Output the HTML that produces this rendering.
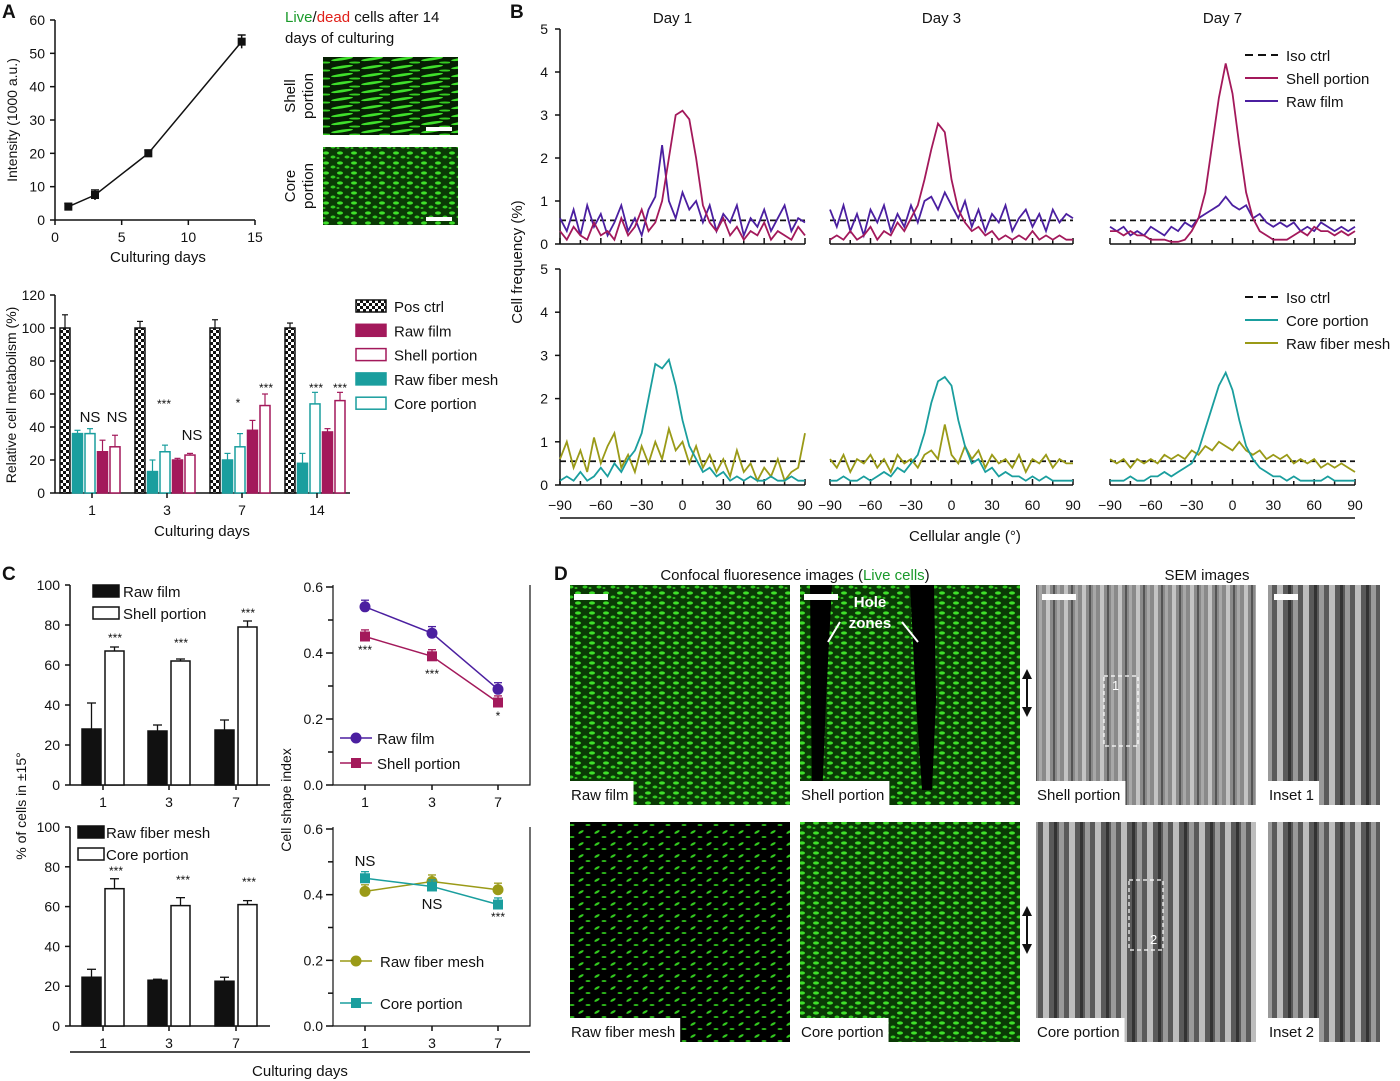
<!DOCTYPE html>
<html><head><meta charset="utf-8"><style>
body{margin:0;background:#fff}
svg{display:block;font-family:"Liberation Sans",sans-serif}
text{fill:#111}
</style></head><body>
<svg id="fig" width="1400" height="1081" viewBox="0 0 1400 1081" xmlns="http://www.w3.org/2000/svg">
<defs>
<pattern id="gDense" width="14" height="10" patternUnits="userSpaceOnUse"><rect width="14" height="10" fill="#0a3a05"/><ellipse cx="4" cy="3" rx="3" ry="1.6" fill="#3ee02a"/><ellipse cx="11" cy="7" rx="2.5" ry="1.5" fill="#33cc22"/><ellipse cx="2" cy="8" rx="1.5" ry="1" fill="#2fb81e"/></pattern>
<pattern id="gSparse" width="16" height="12" patternUnits="userSpaceOnUse"><rect width="16" height="12" fill="#000"/><ellipse cx="5" cy="4" rx="3" ry="1.2" fill="#32c81e" transform="rotate(-30 5 4)"/><ellipse cx="12" cy="9" rx="2.5" ry="1" fill="#2cb51a"/></pattern>
<pattern id="gStreak" width="30" height="8" patternUnits="userSpaceOnUse"><rect width="30" height="8" fill="#061f03"/><ellipse cx="12" cy="3" rx="11" ry="1.4" fill="#3fe02b" transform="rotate(-8 12 3)"/><ellipse cx="25" cy="6.5" rx="6" ry="1" fill="#35cc22"/></pattern>
<pattern id="sem" width="18" height="40" patternUnits="userSpaceOnUse"><rect width="18" height="40" fill="#8a8a8a"/><rect x="2" width="4" height="40" fill="#c4c4c4"/><rect x="9" width="2" height="40" fill="#555"/><rect x="13" width="3" height="40" fill="#a8a8a8"/></pattern>
<pattern id="sem2" width="26" height="40" patternUnits="userSpaceOnUse"><rect width="26" height="40" fill="#5a5a5a"/><rect x="3" width="6" height="40" fill="#bdbdbd"/><rect x="14" width="3" height="40" fill="#333"/><rect x="19" width="5" height="40" fill="#9a9a9a"/></pattern>
<pattern id="check" width="6" height="6" patternUnits="userSpaceOnUse"><rect width="6" height="6" fill="#fff"/><rect width="3" height="3" fill="#111"/><rect x="3" y="3" width="3" height="3" fill="#111"/></pattern>
</defs>
<g id="root"></g>
</svg>
<script>
// ---------- DATA ----------
const aLineDays=[1,3,7,14];
const aLineVals=[4,7.5,20,53.5];
const aLineErr=[1,1.5,1,2];
const aBarDays=['1','3','7','14'];
const aPos=[100,100,100,100];
const aRawFiber=[36,13,20,18];
const aCore=[36,25,28,54];
const aRawFilm=[25,20,38,37];
const aShell=[28,23,53,56];
const aErrPos=[8,4,5,3];
const aErrRF=[2,7,4,6];
const aErrCore=[3,4,8,7];
const aErrFilm=[7,1,6,2];
const aErrShell=[7,1,7,5];
const aYTicks=[0,20,40,60,80,100,120];
const bAngles=[-90,-85,-80,-75,-70,-65,-60,-55,-50,-45,-40,-35,-30,-25,-20,-15,-10,-5,0,5,10,15,20,25,30,35,40,45,50,55,60,65,70,75,80,85,90];
const shell1=[0.3,0.1,0.4,0.2,0.1,0.5,0.2,0.3,0.1,0.6,0.2,0.4,0.8,0.3,0.5,1.0,2.0,3.0,3.1,2.9,2.0,0.9,0.5,0.3,0.6,0.2,0.4,0.1,0.3,0.2,0.5,0.1,0.3,0.2,0.1,0.4,0.2];
const raw1=[0.6,0.3,0.8,0.2,0.9,0.4,0.7,0.2,0.5,0.9,0.3,0.6,0.2,0.8,1.1,2.3,1.0,0.6,1.2,0.8,1.0,0.5,0.9,0.3,0.7,0.5,0.9,0.2,0.6,0.4,0.8,0.3,0.6,0.9,0.3,0.6,0.5];
const shell3=[0.1,0.2,0.1,0.3,0.1,0.2,0.4,0.1,0.3,0.2,0.5,0.3,0.6,0.9,1.5,2.2,2.8,2.6,1.5,0.8,0.5,0.3,0.4,0.2,0.3,0.1,0.2,0.1,0.2,0.1,0.3,0.1,0.2,0.1,0.2,0.1,0.1];
const raw3=[0.8,0.4,0.9,0.3,0.7,0.2,0.8,0.5,0.9,0.3,0.7,0.4,0.9,0.5,1.0,1.1,0.8,1.2,0.9,0.6,1.0,0.4,0.8,0.3,0.7,0.5,0.9,0.3,0.6,0.8,0.4,0.7,0.3,0.8,0.5,0.7,0.6];
const shell7=[0.3,0.3,0.2,0.3,0.2,0.2,0.1,0.1,0.1,0.05,0.05,0.1,0.3,0.6,1.2,2.3,3.4,4.2,3.5,2.3,1.2,0.6,0.3,0.2,0.1,0.1,0.1,0.2,0.3,0.2,0.4,0.3,0.3,0.2,0.3,0.2,0.3];
const raw7=[0.4,0.3,0.4,0.2,0.3,0.2,0.4,0.3,0.2,0.4,0.3,0.5,0.4,0.6,0.7,0.8,0.9,1.1,0.9,0.8,0.9,0.6,0.7,0.5,0.4,0.5,0.4,0.5,0.3,0.4,0.3,0.5,0.4,0.3,0.4,0.3,0.4];
const core1=[0.1,0.2,0.1,0.3,0.1,0.2,0.4,0.2,0.5,0.3,0.6,0.8,1.2,2.0,2.8,2.7,2.9,2.3,1.5,0.9,0.6,0.3,0.4,0.2,0.3,0.1,0.2,0.1,0.2,0.1,0.1,0.2,0.1,0.1,0.2,0.1,0.1];
const rfm1=[0.6,1.0,0.4,0.8,0.3,1.1,0.5,0.9,1.2,0.4,0.7,0.3,0.9,0.5,1.0,0.6,1.3,0.8,1.0,0.5,0.9,0.4,0.7,0.3,0.6,0.2,0.8,0.3,0.5,0.1,0.4,0.2,0.6,0.1,0.3,0.4,1.2];
const core3=[0.1,0.1,0.2,0.1,0.1,0.2,0.1,0.2,0.3,0.2,0.4,0.3,0.5,0.7,1.2,1.9,2.4,2.5,2.3,1.5,0.9,0.5,0.6,0.3,0.4,0.2,0.3,0.2,0.2,0.1,0.2,0.1,0.2,0.1,0.1,0.1,0.1];
const rfm3=[0.6,0.4,0.7,0.3,0.6,0.5,0.7,0.4,0.6,0.3,0.7,0.5,0.6,0.4,0.7,0.8,0.6,1.4,0.7,0.5,0.9,0.6,0.8,0.4,0.7,0.5,0.6,0.4,0.7,0.3,0.6,0.5,0.7,0.4,0.6,0.5,0.5];
const core7=[0.1,0.1,0.1,0.2,0.1,0.1,0.2,0.2,0.3,0.2,0.3,0.4,0.5,0.8,1.3,1.8,2.3,2.6,2.2,1.5,0.9,0.6,0.4,0.3,0.2,0.2,0.1,0.2,0.1,0.1,0.1,0.1,0.2,0.1,0.1,0.1,0.1];
const rfm7=[0.6,0.5,0.6,0.4,0.6,0.5,0.6,0.5,0.7,0.6,0.7,0.6,0.8,0.7,0.9,0.8,1.0,0.9,0.8,1.0,0.8,0.7,0.8,0.6,0.7,0.6,0.7,0.5,0.6,0.5,0.6,0.4,0.5,0.4,0.5,0.4,0.3];
const isoCtrl=0.55;
const cDays=['1','3','7'];
const cRawFilm=[28,27,27.5];
const cShell=[67,62,79];
const cRawFiber=[24.5,23,22.5];
const cCorePct=[69,60.5,61];
const cErrFilm=[13,3,5];
const cErrShell=[2,1,3];
const cErrFiber=[4,0.5,2];
const cErrCore=[5,4,2];
const csiRawFilm=[0.54,0.46,0.29];
const csiShell=[0.45,0.39,0.25];
const csiRawFiber=[0.41,0.44,0.415];
const csiCore=[0.45,0.425,0.37];

// ---------- helpers ----------
const NS='http://www.w3.org/2000/svg';
const root=document.getElementById('root');
function el(tag,attrs,parent){const e=document.createElementNS(NS,tag);for(const k in attrs)e.setAttribute(k,attrs[k]);(parent||root).appendChild(e);return e;}
function txt(x,y,s,size,opts){opts=opts||{};const t=el('text',Object.assign({x:x,y:y,'font-size':size,'text-anchor':opts.anchor||'start'},opts.attr||{}));t.textContent=s;if(opts.fill)t.style.fill=opts.fill;


return t;}
function lin(d0,d1,r0,r1){return v=>r0+(v-d0)*(r1-r0)/(d1-d0);}
function line(x1,y1,x2,y2,c,w,extra){return el('line',Object.assign({x1,y1,x2,y2,stroke:c||'#111','stroke-width':w||1.5},extra||{}));}

// ---------- Panel A line ----------
txt(2,18,'A',19,{attr:{'font-weight':'bold'},name:'panel-a-label'});
{const x=lin(0,15,55,255),y=lin(0,60,220,20);
line(55,20,55,220);line(55,220,255,220);
[0,10,20,30,40,50,60].forEach(v=>{line(50,y(v),55,y(v));txt(45,y(v)+5,String(v),14,{anchor:'end',name:'y-tick'});});
[0,5,10,15].forEach(v=>{line(x(v),220,x(v),225);txt(x(v),242,String(v),14,{anchor:'middle',name:'x-tick'});});
txt(158,262,'Culturing days',15,{anchor:'middle',name:'x-axis-title'});
txt(17,120,'Intensity (1000 a.u.)',14,{anchor:'middle',attr:{transform:'rotate(-90 17 120)'},name:'y-axis-title'});
const p=el('polyline',{points:aLineDays.map((d,i)=>x(d)+','+y(aLineVals[i])).join(' '),fill:'none',stroke:'#111','stroke-width':1.5});

aLineDays.forEach((d,i)=>{line(x(d),y(aLineVals[i]+aLineErr[i]),x(d),y(aLineVals[i]-aLineErr[i]));line(x(d)-4,y(aLineVals[i]+aLineErr[i]),x(d)+4,y(aLineVals[i]+aLineErr[i]));
const r=el('rect',{x:x(d)-4,y:y(aLineVals[i])-4,width:8,height:8,fill:'#111'});});
}
// live/dead text + images
{const t=el('text',{x:285,y:22,'font-size':15});
t.innerHTML='<tspan style="fill:#1a9a2a">Live</tspan>/<tspan style="fill:#e0201a">dead</tspan> cells after 14';
txt(285,43,'days of culturing',15,{name:'live-dead-caption-2'});
const r1=el('rect',{x:323,y:57,width:135,height:78,fill:'url(#gStreak)'});
const r2=el('rect',{x:323,y:147,width:135,height:78,fill:'url(#gDense)'});
el('rect',{x:426,y:127,width:26,height:4,fill:'#fff'});el('rect',{x:426,y:217,width:26,height:4,fill:'#fff'});
txt(295,96,'Shell',15,{anchor:'middle',attr:{transform:'rotate(-90 295 96)'}});txt(313,96,'portion',15,{anchor:'middle',attr:{transform:'rotate(-90 313 96)'}});
txt(295,186,'Core',15,{anchor:'middle',attr:{transform:'rotate(-90 295 186)'}});txt(313,186,'portion',15,{anchor:'middle',attr:{transform:'rotate(-90 313 186)'}});
}
// ---------- Panel A bars ----------
{const y=lin(0,120,493,295);
line(55,295,55,493);line(55,493,350,493);
aYTicks.forEach(v=>{line(50,y(v),55,y(v));txt(45,y(v)+5,String(v),14,{anchor:'end',name:'y-tick'});});
txt(16,395,'Relative cell metabolism (%)',14,{anchor:'middle',attr:{transform:'rotate(-90 16 395)'},name:'y-axis-title'});
txt(202,536,'Culturing days',15,{anchor:'middle',name:'x-axis-title'});
const series=[[aPos,aErrPos,'url(#check)','#111'],[aRawFiber,aErrRF,'#1a9e9e','#1a9e9e'],[aCore,aErrCore,'#fff','#1a9e9e'],[aRawFilm,aErrFilm,'#a3195b','#a3195b'],[aShell,aErrShell,'#fff','#a3195b']];
const names=['pos-ctrl','raw-fiber-mesh','core-portion','raw-film','shell-portion'];
aBarDays.forEach((d,g)=>{const gx=60+g*75;
series.forEach((s,k)=>{const bx=gx+k*12.5,v=s[0][g],e=s[1][g];
const r=el('rect',{x:bx,y:y(v),width:10,height:y(0)-y(v),fill:s[2],stroke:s[3],'stroke-width':1.5});

line(bx+5,y(v),bx+5,y(v+e),s[3],1.2);line(bx+2,y(v+e),bx+8,y(v+e),s[3],1.2);});
line(gx+32,493,gx+32,498);txt(gx+32,515,d,14,{anchor:'middle',name:'x-tick'});});
[['NS',90,422],['NS',117,422],['***',164,408],['NS',192,440],['*',238,407],['***',266,392],['***',316,392],['***',340,392]].forEach(a=>txt(a[1],a[2],a[0],a[0]=='NS'?15:12,{anchor:'middle',name:'significance'}));
const leg=[['Pos ctrl','url(#check)','#111'],['Raw film','#a3195b','#a3195b'],['Shell portion','#fff','#a3195b'],['Raw fiber mesh','#1a9e9e','#1a9e9e'],['Core portion','#fff','#1a9e9e']];
leg.forEach((l,i)=>{const ly=300+i*24.3;const r=el('rect',{x:356,y:ly,width:30,height:12,fill:l[1],stroke:l[2],'stroke-width':1.5});txt(394,ly+12,l[0],15,{name:'legend-entry'});});
}
// ---------- Panel B ----------
txt(510,18,'B',19,{attr:{'font-weight':'bold'},name:'panel-b-label'});
{const xs=[[560,805],[830,1073],[1110,1355]];
const rows=[[244,29,[[shell1,raw1],[shell3,raw3],[shell7,raw7]],['#a3195b','#4b1fa0']],[485,269,[[core1,rfm1],[core3,rfm3],[core7,rfm7]],['#1a9e9e','#9a9a17']]];
['Day 1','Day 3','Day 7'].forEach((d,i)=>txt((xs[i][0]+xs[i][1])/2-10,23,d,15,{anchor:'middle',name:'day-title'}));
rows.forEach((row,ri)=>{const y=lin(0,5,row[0],row[1]);
line(560,row[1],560,row[0]);
[0,1,2,3,4,5].forEach(v=>{line(555,y(v),560,y(v));txt(548,y(v)+5,String(v),14,{anchor:'end',name:'y-tick'});});
xs.forEach((xr,si)=>{const x=lin(-90,90,xr[0],xr[1]);
line(xr[0],row[0],xr[1],row[0]);
for(let a=-90;a<=90;a+=15)line(x(a),row[0],x(a),row[0]-(a%30==0?6:4));
if(ri==1)[-90,-60,-30,0,30,60,90].forEach(a=>txt(x(a),510,a<0?'\u2212'+(-a):String(a),14,{anchor:'middle',name:'x-tick'}));
line(xr[0],y(isoCtrl),xr[1],y(isoCtrl),'#111',1.8,{'stroke-dasharray':'6,4'});
[1,0].forEach(k=>{const vals=row[2][si][k];const p=el('polyline',{points:bAngles.map((a,i)=>x(a).toFixed(1)+','+y(vals[i]).toFixed(1)).join(' '),fill:'none',stroke:row[3][k],'stroke-width':1.8});

});
});});
line(560,518,1355,518);
txt(965,541,'Cellular angle (\u00b0)',15,{anchor:'middle',name:'x-axis-title'});
txt(522,262,'Cell frequency (%)',15,{anchor:'middle',attr:{transform:'rotate(-90 522 262)'},name:'y-axis-title'});
const legs=[[55,[['Iso ctrl','#111',1],['Shell portion','#a3195b'],['Raw film','#4b1fa0']]],[297,[['Iso ctrl','#111',1],['Core portion','#1a9e9e'],['Raw fiber mesh','#9a9a17']]]];
legs.forEach(L=>L[1].forEach((e,i)=>{const ly=L[0]+i*23;line(1245,ly,1278,ly,e[1],2,e[2]?{'stroke-dasharray':'8,5'}:{});txt(1286,ly+6,e[0],15,{name:'legend-entry'});}));
}
// ---------- Panel C ----------
txt(2,580,'C',19,{attr:{'font-weight':'bold'},name:'panel-c-label'});
{const cx=[103,169,236];
const bars=[[785,585,cRawFilm,cShell,cErrFilm,cErrShell,['Raw film','Shell portion'],[[['***',103,642],['***',169,647],['***',236,617]]]],[1026,827,cRawFiber,cCorePct,cErrFiber,cErrCore,['Raw fiber mesh','Core portion'],[[['***',104,875],['***',171,884],['***',237,886]]]]];
bars.forEach((b,bi)=>{const y=lin(0,100,b[0],b[1]);
line(70,b[1],70,b[0]);line(70,b[0],270,b[0]);
[0,20,40,60,80,100].forEach(v=>{line(65,y(v),70,y(v));txt(60,y(v)+5,String(v),14,{anchor:'end',name:'y-tick'});});
cDays.forEach((d,i)=>{
[[b[2],b[4],'#111',-21],[b[3],b[5],'#fff',2]].forEach((s,k)=>{const bx=cx[i]+s[3],v=s[0][i],e=s[1][i];
line(bx+9.5,y(v),bx+9.5,y(v+e),'#111',1.3);line(bx+5,y(v+e),bx+14,y(v+e),'#111',1.3);
const r=el('rect',{x:bx,y:y(v),width:19,height:y(0)-y(v),fill:s[2],stroke:'#111','stroke-width':1.5});
});
line(cx[i],b[0],cx[i],b[0]+5);txt(cx[i],b[0]+22,d,14,{anchor:'middle',name:'x-tick'});});
b[7][0].forEach(s=>txt(s[1]+12,s[2],s[0],12,{anchor:'middle',name:'significance'}));
const lx=bi?78:93,ly=bi?832:591;
b[6].forEach((n,i)=>{const r=el('rect',{x:lx,y:ly+i*22-6,width:26,height:12,fill:i?'#fff':'#111',stroke:'#111','stroke-width':1.5});txt(lx+(bi?28:30),ly+i*22+6,n,15,{name:'legend-entry'});});
});
txt(26,806,'% of cells in \u00b115\u00b0',14,{anchor:'middle',attr:{transform:'rotate(-90 26 806)'},name:'y-axis-title'});
txt(291,800,'Cell shape index',14,{anchor:'middle',attr:{transform:'rotate(-90 291 800)'},name:'y-axis-title'});
line(70,1052,530,1052);
txt(300,1076,'Culturing days',15,{anchor:'middle',name:'x-axis-title'});
const px=[365,432,498];
const csi=[[785,587,[[csiRawFilm,'#4b1fa0','c'],[csiShell,'#a3195b','s']],['Raw film','Shell portion'],[['***',365,654],['***',432,678],['*',498,720]]],[1026,829,[[csiRawFiber,'#9a9a17','c'],[csiCore,'#1a9e9e','s']],['Raw fiber mesh','Core portion'],[['NS',365,866],['NS',432,909],['***',498,921]]]];
csi.forEach((c,ci)=>{const y=lin(0,0.6,c[0],c[1]);
const bx=el('path',{d:`M333 ${c[1]-2} V${c[0]} H530 V${c[1]-2}`,fill:'none',stroke:'#111','stroke-width':1.2});
[0,0.1,0.2,0.3,0.4,0.5,0.6].forEach((v,j)=>{line(j%2?328:326,y(v),333,y(v));});
[0,0.2,0.4,0.6].forEach(v=>{txt(323,y(v)+5,v.toFixed(1),14,{anchor:'end',name:'y-tick'});});
cDays.forEach((d,i)=>{line(px[i],c[0],px[i],c[0]+5);txt(px[i],c[0]+22,d,14,{anchor:'middle',name:'x-tick'});});
c[2].forEach((s,k)=>{const p=el('polyline',{points:px.map((x,i)=>x+','+y(s[0][i])).join(' '),fill:'none',stroke:s[1],'stroke-width':1.5});

px.forEach((x,i)=>{line(x,y(s[0][i]),x,y(s[0][i]+0.02),s[1],1.3);line(x-4,y(s[0][i]+0.02),x+4,y(s[0][i]+0.02),s[1],1.3);
const m=s[2]=='c'?el('circle',{cx:x,cy:y(s[0][i]),r:5.5,fill:s[1]}):el('rect',{x:x-5,y:y(s[0][i])-5,width:10,height:10,fill:s[1]});
});});
const ly=ci?961:738;
c[2].forEach((s,k)=>{const yy=ly+k*(ci?42:25);line(340,yy,372,yy,s[1],1.5);
const m=s[2]=='c'?el('circle',{cx:356,cy:yy,r:5.5,fill:s[1]}):el('rect',{x:351,y:yy-5,width:10,height:10,fill:s[1]});
txt(ci?380:377,yy+6,c[3][k],15,{name:'legend-entry'});});
c[4].forEach(s=>txt(s[1],s[2],s[0],s[0]=='NS'?15:12,{anchor:'middle',name:'significance'}));
});
}
// ---------- Panel D ----------
txt(554,580,'D',19,{attr:{'font-weight':'bold'},name:'panel-d-label'});
{const t=el('text',{x:795,y:580,'font-size':15,'text-anchor':'middle'});
t.innerHTML='Confocal fluoresence images (<tspan style="fill:#1a9a2a">Live cells</tspan>)';
txt(1207,580,'SEM images',15,{anchor:'middle',name:'sem-title'});
const imgs=[[570,585,220,220,'url(#gDense)','Raw film'],[800,585,220,220,'url(#gDense)','Shell portion'],[1036,585,220,220,'url(#sem)','Shell portion'],[1268,585,112,220,'url(#sem2)','Inset 1'],
[570,822,220,220,'url(#gSparse)','Raw fiber mesh'],[800,822,220,220,'url(#gDense)','Core portion'],[1036,822,220,220,'url(#sem2)','Core portion'],[1268,822,112,220,'url(#sem2)','Inset 2']];
imgs.forEach((m,i)=>{const r=el('rect',{x:m[0],y:m[1],width:m[2],height:m[3],fill:m[4]});

if(i==1){el('path',{d:'M810 585 L832 585 L826 700 L822 800 L812 800 Z',fill:'#000'});
el('path',{d:'M910 585 L934 585 L936 700 L932 790 L922 790 L916 700 Z',fill:'#000'});}
const bg=el('rect',{x:m[0],y:m[1]+m[3]-24,width:10,height:24,fill:'#fff'});
const t=txt(m[0]+1,m[1]+m[3]-5,m[5],15,{name:'image-label'});
bg.setAttribute('width',t.getComputedTextLength()+6);});
txt(870,607,'Hole',15,{anchor:'middle',attr:{'font-weight':'bold'},fill:'#fff'});
txt(870,628,'zones',15,{anchor:'middle',attr:{'font-weight':'bold'},fill:'#fff'});
line(840,622,828,642,'#fff',2);line(902,622,918,642,'#fff',2);
[[574,594],[804,594],[1042,594],[1274,594]].forEach(p=>el('rect',{x:p[0],y:p[1],width:p[0]>1200?24:34,height:6,fill:'#fff'}));
[[1027,693],[1027,930]].forEach(p=>{line(p[0],p[1]-20,p[0],p[1]+20,'#111',2);el('path',{d:`M${p[0]-5} ${p[1]-14} L${p[0]} ${p[1]-24} L${p[0]+5} ${p[1]-14}Z M${p[0]-5} ${p[1]+14} L${p[0]} ${p[1]+24} L${p[0]+5} ${p[1]+14}Z`,fill:'#111'});});
el('rect',{x:1104,y:676,width:34,height:70,fill:'none',stroke:'#fff','stroke-dasharray':'4,3','stroke-width':1.2});
el('rect',{x:1129,y:880,width:34,height:70,fill:'none',stroke:'#fff','stroke-dasharray':'4,3','stroke-width':1.2});
txt(1112,690,'1',13,{fill:'#fff'});txt(1150,944,'2',13,{fill:'#fff'});
}
</script>
</body></html>
